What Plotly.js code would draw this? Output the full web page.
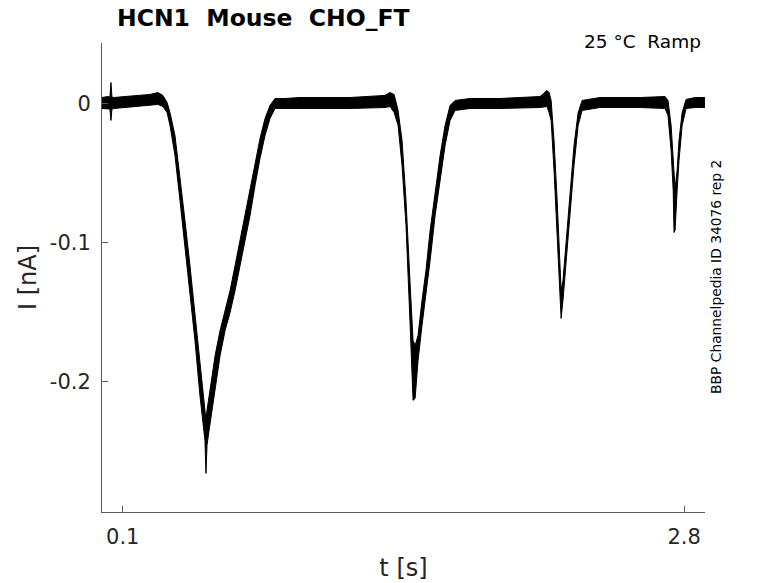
<!DOCTYPE html>
<html>
<head>
<meta charset="utf-8">
<script src="https://cdn.plot.ly/plotly-3.0.1.min.js"></script>
<style>html,body{margin:0;padding:0;background:#fff;}#chart{width:778px;height:583px;}</style>
</head>
<body>
<div id="chart"></div>
<script>
// time points [s]
var t = [0,0.029,0.038,0.043,0.048,0.058,0.111,0.183,0.231,0.269,0.293,0.313,0.327,0.351,0.375,0.399,0.423,0.447,0.471,0.486,0.495,0.500,0.505,0.515,0.529,0.544,0.568,0.592,0.616,0.640,0.664,0.688,0.712,0.736,0.760,0.784,0.808,0.832,0.880,0.952,1.193,1.361,1.385,1.405,1.424,1.443,1.462,1.481,1.496,1.506,1.520,1.539,1.558,1.578,1.602,1.626,1.650,1.674,1.698,1.770,1.914,2.107,2.140,2.150,2.160,2.174,2.189,2.203,2.208,2.217,2.232,2.251,2.270,2.290,2.309,2.395,2.588,2.708,2.722,2.737,2.747,2.751,2.756,2.766,2.775,2.790,2.809,2.852,2.900];
// upper edge of the recorded current band [nA]
var iUpper = [0.0043,0.0050,0.0045,0.0151,0.0045,0.0043,0.0050,0.0058,0.0065,0.0079,0.0058,0.0007,-0.0065,-0.0230,-0.0518,-0.0841,-0.1165,-0.1524,-0.1884,-0.2100,-0.2207,-0.2279,-0.2207,-0.2100,-0.1956,-0.1812,-0.1632,-0.1488,-0.1345,-0.1165,-0.0985,-0.0805,-0.0626,-0.0431,-0.0252,-0.0108,-0.0014,0.0036,0.0036,0.0043,0.0043,0.0058,0.0079,0.0065,-0.0050,-0.0266,-0.0697,-0.1273,-0.1704,-0.1740,-0.1668,-0.1416,-0.1201,-0.0913,-0.0626,-0.0374,-0.0158,-0.0014,0.0022,0.0036,0.0036,0.0050,0.0094,0.0079,0.0022,-0.0266,-0.0697,-0.1201,-0.1345,-0.1273,-0.0985,-0.0626,-0.0302,-0.0065,0.0022,0.0043,0.0043,0.0050,0.0022,-0.0158,-0.0410,-0.0575,-0.0611,-0.0482,-0.0266,-0.0065,0.0029,0.0043,0.0043];
// lower edge of the recorded current band [nA]
var iLower = [-0.0036,-0.0043,-0.0040,-0.0122,-0.0040,-0.0036,-0.0029,-0.0022,-0.0014,-0.0007,-0.0022,-0.0065,-0.0158,-0.0374,-0.0697,-0.1021,-0.1345,-0.1704,-0.2100,-0.2315,-0.2423,-0.2660,-0.2459,-0.2351,-0.2207,-0.2028,-0.1812,-0.1632,-0.1503,-0.1345,-0.1165,-0.0985,-0.0805,-0.0590,-0.0395,-0.0230,-0.0108,-0.0036,-0.0036,-0.0036,-0.0036,-0.0029,-0.0022,-0.0065,-0.0158,-0.0446,-0.0877,-0.1560,-0.2135,-0.2121,-0.1848,-0.1596,-0.1380,-0.1129,-0.0805,-0.0554,-0.0302,-0.0122,-0.0050,-0.0036,-0.0036,-0.0029,-0.0022,-0.0065,-0.0122,-0.0482,-0.0985,-0.1416,-0.1546,-0.1416,-0.1143,-0.0769,-0.0446,-0.0158,-0.0050,-0.0029,-0.0029,-0.0036,-0.0086,-0.0338,-0.0626,-0.0928,-0.0913,-0.0626,-0.0410,-0.0158,-0.0036,-0.0029,-0.0029];
var xTickVals = [0.1, 2.8];
var xTickText = ['0.1', '2.8'];
var yTickVals = [0, -0.1, -0.2];
var yTickText = ['0', '-0.1', '-0.2'];

var FONT = 'DejaVu Sans, sans-serif';
var traces = [
  {x: t, y: iLower, type: 'scatter', mode: 'lines', line: {color: '#000', width: 1}, hoverinfo: 'skip', showlegend: false},
  {x: t, y: iUpper, type: 'scatter', mode: 'lines', fill: 'tonexty', fillcolor: '#000', line: {color: '#000', width: 1}, hoverinfo: 'skip', showlegend: false}
];
var axisCommon = {
  showgrid: false, zeroline: false, showline: true, linecolor: '#5a5a5a', linewidth: 1,
  ticks: 'inside', ticklen: 6, tickcolor: '#5a5a5a', tickwidth: 1,
  tickfont: {family: FONT, size: 21, color: '#262626'}, fixedrange: true
};
var layout = {
  width: 778, height: 583,
  margin: {l: 102, r: 73, t: 43, b: 71},
  paper_bgcolor: '#fff', plot_bgcolor: '#fff',
  showlegend: false,
  xaxis: Object.assign({}, axisCommon, {
    range: [0, 2.9], tickmode: 'array', tickvals: xTickVals, ticktext: xTickText,
    ticklabelstandoff: 6,
    title: {text: 't [s]', font: {family: FONT, size: 24, color: '#262626'}, standoff: 10}
  }),
  yaxis: Object.assign({}, axisCommon, {
    range: [-0.2938, 0.0435], tickmode: 'array', tickvals: yTickVals, ticktext: yTickText,
    ticklabelstandoff: 6,
    title: {text: 'I [nA]', font: {family: FONT, size: 24, color: '#262626'}, standoff: 6}
  }),
  annotations: [
    {text: '<b>HCN1\u00a0 Mouse\u00a0 CHO_FT</b>', xref: 'paper', yref: 'paper', x: 0.021, y: 1.053,
     xanchor: 'left', yanchor: 'middle', showarrow: false, font: {family: FONT, size: 23.5, color: '#000'}},
    {text: '25 °C\u00a0 Ramp', xref: 'paper', yref: 'paper', x: 0.9967, y: 1.004,
     xanchor: 'right', yanchor: 'middle', showarrow: false, font: {family: FONT, size: 18.5, color: '#000'}},
    {text: 'BBP Channelpedia ID 34076 rep 2', xref: 'paper', yref: 'paper', x: 1.018, y: 0.501,
     xanchor: 'center', yanchor: 'middle', textangle: -90, showarrow: false, font: {family: FONT, size: 13.8, color: '#000'}}
  ]
};
Plotly.newPlot('chart', traces, layout, {displayModeBar: false, staticPlot: true});
</script>
</body>
</html>
